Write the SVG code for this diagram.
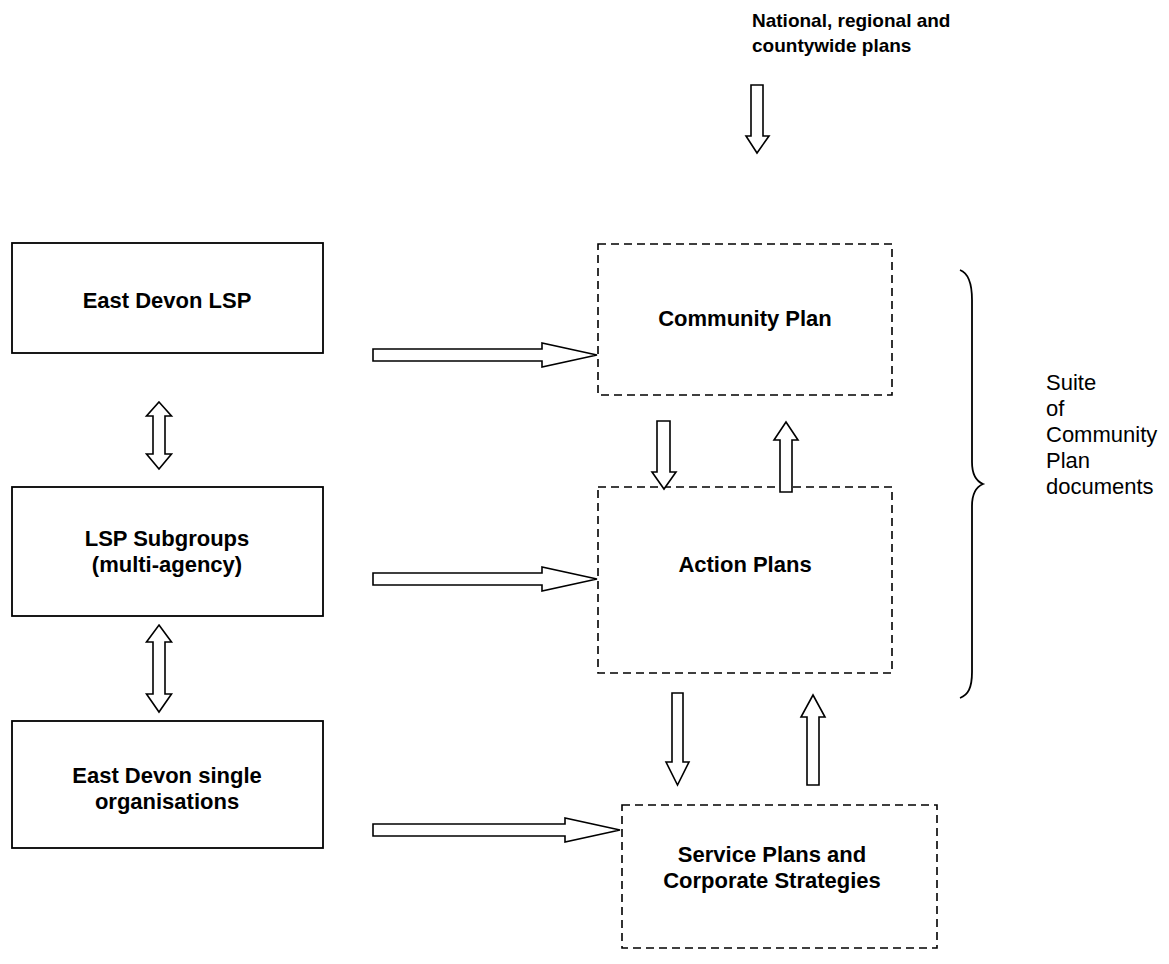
<svg xmlns="http://www.w3.org/2000/svg" width="1169" height="964" viewBox="0 0 1169 964">
<style>
.solid{fill:#fff;stroke:#000;stroke-width:1.8}
.dash{fill:#fff;stroke:#000;stroke-width:1.6;stroke-dasharray:8 5}
.arr{fill:#fff;stroke:#000;stroke-width:1.6;stroke-linejoin:miter}
.lbl{font-family:"Liberation Sans",Arial,sans-serif;font-size:22px;font-weight:bold;fill:#000}
.top{font-family:"Liberation Sans",Arial,sans-serif;font-size:19px;font-weight:bold;fill:#000}
.reg{font-family:"Liberation Sans",Arial,sans-serif;font-size:22px;fill:#000}
</style>
<rect width="1169" height="964" fill="#fff"/>
<g id="national">
<text class="top" x="752" y="27">National, regional and</text>
<text class="top" x="752" y="52">countywide plans</text>
</g>
<g id="east-devon-lsp">
<rect class="solid" x="12" y="243" width="311" height="110"/>
<text class="lbl" x="167" y="308" text-anchor="middle">East Devon LSP</text>
</g>
<g id="lsp-subgroups">
<rect class="solid" x="12" y="487" width="311" height="129"/>
<text class="lbl" x="167" y="546" text-anchor="middle">LSP Subgroups</text>
<text class="lbl" x="167" y="572" text-anchor="middle">(multi-agency)</text>
</g>
<g id="single-orgs">
<rect class="solid" x="12" y="721" width="311" height="127"/>
<text class="lbl" x="167" y="783" text-anchor="middle">East Devon single</text>
<text class="lbl" x="167" y="809" text-anchor="middle">organisations</text>
</g>
<g id="community-plan">
<rect class="dash" x="598" y="244" width="294" height="151"/>
<text class="lbl" x="745" y="326" text-anchor="middle">Community Plan</text>
</g>
<g id="action-plans">
<rect class="dash" x="598" y="487" width="294" height="186"/>
<text class="lbl" x="745" y="572" text-anchor="middle">Action Plans</text>
</g>
<g id="service-plans">
<rect class="dash" x="622" y="805" width="315" height="143"/>
<text class="lbl" x="772" y="862" text-anchor="middle">Service Plans and</text>
<text class="lbl" x="772" y="888" text-anchor="middle">Corporate Strategies</text>
</g>
<g id="suite">
<path d="M960,270 C968,273 972,282 972,300 L972,462 C972,474 976,481 983,484 C976,487 972,494 972,506 L972,672 C972,688 968,695 960,698" fill="none" stroke="#000" stroke-width="1.8"/>
<text class="reg" x="1046" y="390">Suite</text>
<text class="reg" x="1046" y="416">of</text>
<text class="reg" x="1046" y="442">Community</text>
<text class="reg" x="1046" y="468">Plan</text>
<text class="reg" x="1046" y="494">documents</text>
</g>
<g id="connectors">
<polygon class="arr" points="751,85 763,85 763,136 769,136 757,153 746,136 751,136"/>
<polygon class="arr" points="373,349 542,349 542,343 597,355 542,367 542,361 373,361"/>
<polygon class="arr" points="373,573 542,573 542,567 597,579 542,591 542,585 373,585"/>
<polygon class="arr" points="373,824 565,824 565,818 620,830 565,842 565,836 373,836"/>
<polygon class="arr" points="159,402 171.5,416 165,416 165,454 171.5,454 159,469 146.5,454 153,454 153,416 146.5,416"/>
<polygon class="arr" points="159,625 171.5,642 165,642 165,694 171.5,694 159,712 146.5,694 153,694 153,642 146.5,642"/>
<polygon class="arr" points="657,421 670,421 670,472 676,472 664,489 652,472 657,472"/>
<polygon class="arr" points="786,422 798,440 792,440 792,492 780,492 780,440 774,440"/>
<polygon class="arr" points="672,693 683,693 683,762 689,762 677.5,785 666,762 672,762"/>
<polygon class="arr" points="813,695 825,717 819,717 819,785 807,785 807,717 801,717"/>
</g>
</svg>
